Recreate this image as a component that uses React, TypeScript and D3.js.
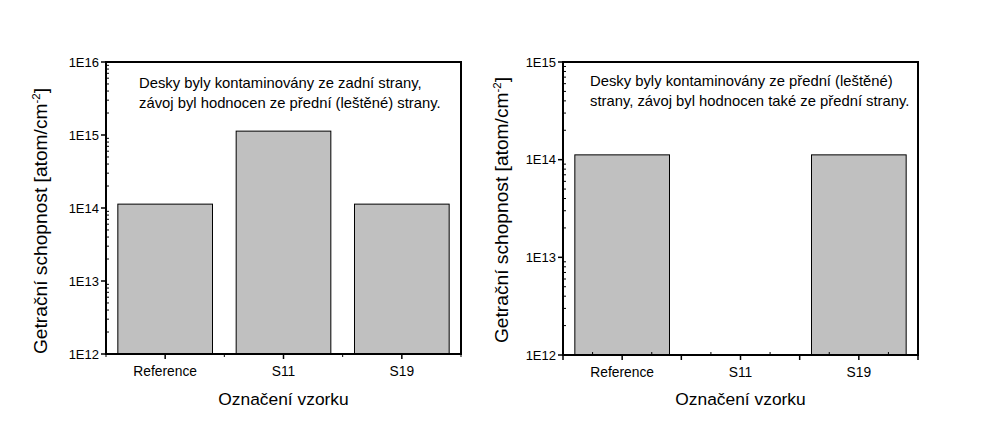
import React from "react";
import * as d3 from "d3";

const categories = ["Reference", "S11", "S19"];
const leftValues: (number | null)[] = [1.13e14, 1.13e15, 1.13e14];
const rightValues: (number | null)[] = [1.12e14, null, 1.12e14];
const leftTickLabels = ["1E12", "1E13", "1E14", "1E15", "1E16"];
const rightTickLabels = ["1E12", "1E13", "1E14", "1E15"];
const leftNote = ["Desky byly kontaminovány ze zadní strany,", "závoj byl hodnocen ze přední (leštěné) strany."];
const rightNote = ["Desky byly kontaminovány ze přední (leštěné)", "strany, závoj byl hodnocen také ze přední strany."];
const yTitle = "Getrační schopnost [atom/cm";
const xTitle = "Označení vzorku";

const FONT = "'Liberation Sans', Arial, sans-serif";

type PanelProps = {
  x0: number; x1: number; y0: number; y1: number;
  values: (number | null)[];
  tickLabels: string[];
  note: string[];
  noteX: number; noteY: number;
  yTitleX: number; yTitleY: number;
  fineX: boolean;
};

function Panel(p: PanelProps) {
  const domMax = Math.pow(10, 12 + p.tickLabels.length - 1);
  const y = d3.scaleLog().domain([1e12, domMax]).range([p.y1, p.y0]);
  const x = d3.scaleBand<string>().domain(categories).range([p.x0, p.x1]).paddingInner(0.2).paddingOuter(0.1);
  const step = x.step();
  const majors = p.tickLabels.map((_, i) => Math.pow(10, 12 + i));
  const minors: number[] = [];
  for (let e = 12; e < 12 + p.tickLabels.length - 1; e++) {
    for (let m = 2; m <= 9; m++) minors.push(m * Math.pow(10, e));
  }
  const xMajor: number[] = [];
  const xMinor: number[] = [];
  if (p.fineX) {
    for (let i = 0; i <= 6; i++) xMajor.push(p.x0 + (i * step) / 2);
    for (let i = 0; i < 6; i++) xMinor.push(p.x0 + ((i + 0.5) * step) / 2);
  } else {
    categories.forEach((c) => xMajor.push((x(c) as number) + x.bandwidth() / 2));
    for (let i = 0; i <= 3; i++) xMinor.push(p.x0 + i * step);
  }
  return (
    <g>
      {categories.map((c, i) => {
        const v = p.values[i];
        if (v == null) return null;
        return (
          <rect key={c} x={x(c)} y={y(v)} width={x.bandwidth()} height={p.y1 - y(v)}
            fill="#c0c0c0" stroke="#000" strokeWidth={1} />
        );
      })}
      <rect x={p.x0} y={p.y0} width={p.x1 - p.x0} height={p.y1 - p.y0} fill="none" stroke="#000" strokeWidth={2} />
      {majors.map((v, i) => (
        <g key={"ym" + i}>
          <line x1={p.x0 - 5} x2={p.x0} y1={y(v)} y2={y(v)} stroke="#000" strokeWidth={1.5} />
          <text x={p.x0 - 7} y={y(v)} dy="0.35em" textAnchor="end" fontSize={13} fontFamily={FONT}>{p.tickLabels[i]}</text>
        </g>
      ))}
      {minors.map((v, i) => (
        <line key={"yn" + i} x1={p.x0} x2={p.x0 + 3} y1={y(v)} y2={y(v)} stroke="#000" strokeWidth={1} />
      ))}
      {xMajor.map((v, i) => (
        <line key={"xm" + i} x1={v} x2={v} y1={p.y1} y2={p.y1 + 5} stroke="#000" strokeWidth={1.5} />
      ))}
      {xMinor.map((v, i) => (
        p.fineX
          ? <line key={"xn" + i} x1={v} x2={v} y1={p.y1} y2={p.y1 - 3} stroke="#000" strokeWidth={1} />
          : <line key={"xn" + i} x1={v} x2={v} y1={p.y1} y2={p.y1 + 3} stroke="#000" strokeWidth={1} />
      ))}
      {categories.map((c) => (
        <text key={"xl" + c} x={(x(c) as number) + x.bandwidth() / 2} y={p.y1 + 22} textAnchor="middle"
          fontSize={13.8} fontFamily={FONT}>{c}</text>
      ))}
      {p.note.map((t, i) => (
        <text key={"n" + i} x={p.noteX} y={p.noteY + i * 19.5} fontSize={14.8} fontFamily={FONT}>{t}</text>
      ))}
      <text x={(p.x0 + p.x1) / 2} y={405} textAnchor="middle" fontSize={17.4} fontFamily={FONT}>{xTitle}</text>
      <text transform={`translate(${p.yTitleX},${p.yTitleY}) rotate(-90)`} textAnchor="middle" fontSize={19.2} fontFamily={FONT}>
        {yTitle}
        <tspan dy={-7} fontSize={11.5}>-2</tspan>
        <tspan dy={7}>]</tspan>
      </text>
    </g>
  );
}

export default function App() {
  return (
    <svg width={1003} height={438} style={{ position: "absolute", left: 0, top: 0, background: "#fff" }}>
      <rect width={1003} height={438} fill="#fff" />
      <Panel x0={106} x1={461} y0={62} y1={354} values={leftValues} tickLabels={leftTickLabels}
        note={leftNote} noteX={139} noteY={88} yTitleX={47} yTitleY={221} fineX={false} />
      <Panel x0={563} x1={918} y0={62} y1={355} values={rightValues} tickLabels={rightTickLabels}
        note={rightNote} noteX={590} noteY={86} yTitleX={508} yTitleY={210} fineX={true} />
    </svg>
  );
}
